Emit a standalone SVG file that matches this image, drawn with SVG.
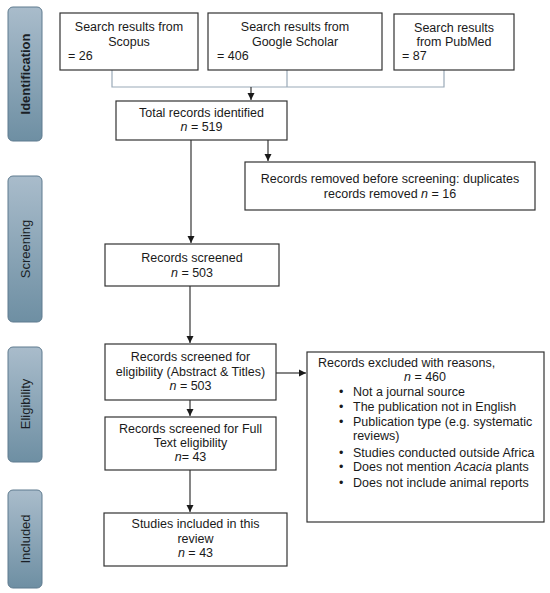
<svg xmlns="http://www.w3.org/2000/svg" width="550" height="593" viewBox="0 0 550 593">
<defs>
<linearGradient id="g" x1="0" y1="0" x2="0" y2="1">
<stop offset="0" stop-color="#a9bccb"/>
<stop offset="1" stop-color="#6e8fa3"/>
</linearGradient>
<marker id="ah" markerWidth="8" markerHeight="8" refX="7" refY="4" orient="auto" markerUnits="userSpaceOnUse">
<path d="M0,0.5 L7,4 L0,7.5 z" fill="#1a1a1a"/>
</marker>
<style>
.side{fill:url(#g);stroke:#5f7b8f;stroke-width:1}
.box{fill:#fff;stroke:#333;stroke-width:1.2}
text{font-family:"Liberation Sans",Arial,sans-serif;font-size:12.5px;fill:#1a1a1a}
.c{text-anchor:middle}
.lab{font-size:13px;fill:#1a1f26}
.con{fill:none;stroke:#222;stroke-width:1.1}
.gray{fill:none;stroke:#9aaab8;stroke-width:1.2}
</style>
</defs>
<rect width="550" height="593" fill="#fff"/>

<g id="phase-identification">
<rect class="side" x="8" y="7" width="34" height="134" rx="5"/>
<text class="c lab" transform="translate(30,74) rotate(-90)" font-weight="bold">Identification</text>
</g>
<g id="phase-screening">
<rect class="side" x="8" y="176" width="34" height="146" rx="5"/>
<text class="c lab" transform="translate(30,249) rotate(-90)">Screening</text>
</g>
<g id="phase-eligibility">
<rect class="side" x="8" y="347" width="34" height="115" rx="5"/>
<text class="c lab" transform="translate(30,404) rotate(-90)">Eligibility</text>
</g>
<g id="phase-included">
<rect class="side" x="8" y="490" width="34" height="98" rx="5"/>
<text class="c lab" transform="translate(30,539) rotate(-90)">Included</text>
</g>

<g id="connectors">
<path class="gray" d="M112,70 V87 H444 V70 M287,70 V87"/>
<path class="con" d="M251,87 V100" marker-end="url(#ah)"/>
<path class="con" d="M268,140 V161" marker-end="url(#ah)"/>
<path class="con" d="M191,140 V243" marker-end="url(#ah)"/>
<path class="con" d="M190,286 V343" marker-end="url(#ah)"/>
<path class="con" d="M190,400 V416" marker-end="url(#ah)"/>
<path class="con" d="M190,470 V512" marker-end="url(#ah)"/>
<path class="con" d="M276,373 H306" marker-end="url(#ah)"/>
</g>

<g id="scopus">
<rect class="box" x="60" y="13" width="138" height="57"/>
<text class="c" x="129" y="31">Search results from</text>
<text class="c" x="129" y="46">Scopus</text>
<text x="68" y="60">= 26</text>
</g>
<g id="scholar">
<rect class="box" x="208" y="13" width="174" height="57"/>
<text class="c" x="295" y="31">Search results from</text>
<text class="c" x="295" y="46">Google Scholar</text>
<text x="217" y="60">= 406</text>
</g>
<g id="pubmed">
<rect class="box" x="394" y="14" width="120" height="56"/>
<text class="c" x="454" y="32">Search results</text>
<text class="c" x="454" y="46">from PubMed</text>
<text x="402" y="60">= 87</text>
</g>
<g id="total">
<rect class="box" x="116" y="101" width="171" height="39"/>
<text class="c" x="201.5" y="117">Total records identified</text>
<text class="c" x="201.5" y="131"><tspan font-style="italic">n</tspan> = 519</text>
</g>
<g id="removed">
<rect class="box" x="245" y="162" width="290" height="48"/>
<text class="c" x="390" y="183">Records removed before screening: duplicates</text>
<text class="c" x="390" y="198">records removed <tspan font-style="italic">n</tspan> = 16</text>
</g>
<g id="screened">
<rect class="box" x="105" y="244" width="174" height="42"/>
<text class="c" x="192" y="262">Records screened</text>
<text class="c" x="192" y="277"><tspan font-style="italic">n</tspan> = 503</text>
</g>
<g id="eligibility">
<rect class="box" x="105" y="344" width="171" height="56"/>
<text class="c" x="190.5" y="361">Records screened for</text>
<text class="c" x="190.5" y="376">eligibility (Abstract &amp; Titles)</text>
<text class="c" x="190.5" y="390"><tspan font-style="italic">n</tspan> = 503</text>
</g>
<g id="fulltext">
<rect class="box" x="105" y="417" width="171" height="53"/>
<text class="c" x="190.5" y="433">Records screened for Full</text>
<text class="c" x="190.5" y="447">Text eligibility</text>
<text class="c" x="190.5" y="461"><tspan font-style="italic">n</tspan>= 43</text>
</g>
<g id="included">
<rect class="box" x="104" y="513" width="183" height="53"/>
<text class="c" x="195.5" y="528">Studies included in this</text>
<text class="c" x="195.5" y="543">review</text>
<text class="c" x="195.5" y="557"><tspan font-style="italic">n</tspan> = 43</text>
</g>
<g id="excluded">
<rect class="box" x="307" y="352" width="237" height="170"/>
<text x="318" y="367">Records excluded with reasons,</text>
<text class="c" x="425" y="381"><tspan font-style="italic">n</tspan> = 460</text>
<g>
<text x="339" y="396">•</text><text x="353" y="396">Not a journal source</text>
<text x="339" y="411">•</text><text x="353" y="411">The publication not in English</text>
<text x="339" y="426">•</text><text x="353" y="426">Publication type (e.g. systematic</text>
<text x="353" y="440">reviews)</text>
<text x="339" y="457">•</text><text x="353" y="457">Studies conducted outside Africa</text>
<text x="339" y="471">•</text><text x="353" y="471">Does not mention <tspan font-style="italic">Acacia</tspan> plants</text>
<text x="339" y="487">•</text><text x="353" y="487">Does not include animal reports</text>
</g>
</g>
</svg>
